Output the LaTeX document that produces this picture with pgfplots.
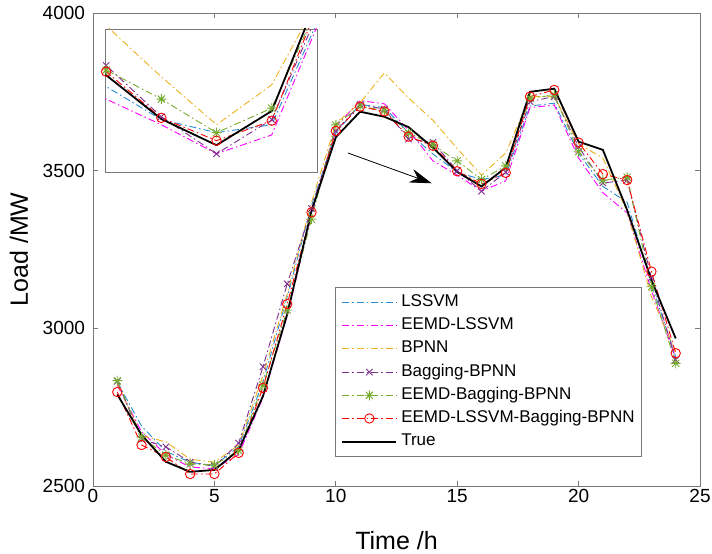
\documentclass[border=0pt]{standalone}
\usepackage{fontspec}
\setmainfont{Liberation Sans}
\usepackage{pgfplots}
\usepackage{pgfplotstable}
\pgfplotsset{compat=1.18}
\usetikzlibrary{arrows.meta}

\definecolor{cLS}{RGB}{40,140,210}
\definecolor{cELS}{RGB}{255,0,255}
\definecolor{cBP}{RGB}{237,177,32}
\definecolor{cBag}{RGB}{126,47,142}
\definecolor{cEBag}{RGB}{119,172,48}
\definecolor{cOurs}{RGB}{255,0,0}
\definecolor{framec}{RGB}{120,120,120}

\pgfdeclareplotmark{mstar}{%
  \pgfpathmoveto{\pgfqpoint{-\pgfplotmarksize}{0pt}}%
  \pgfpathlineto{\pgfqpoint{\pgfplotmarksize}{0pt}}%
  \pgfpathmoveto{\pgfqpoint{0pt}{-\pgfplotmarksize}}%
  \pgfpathlineto{\pgfqpoint{0pt}{\pgfplotmarksize}}%
  \pgfpathmoveto{\pgfqpoint{-0.707\pgfplotmarksize}{-0.707\pgfplotmarksize}}%
  \pgfpathlineto{\pgfqpoint{0.707\pgfplotmarksize}{0.707\pgfplotmarksize}}%
  \pgfpathmoveto{\pgfqpoint{-0.707\pgfplotmarksize}{0.707\pgfplotmarksize}}%
  \pgfpathlineto{\pgfqpoint{0.707\pgfplotmarksize}{-0.707\pgfplotmarksize}}%
  \pgfusepathqstroke}

\pgfplotstableread{
x  ls    els   bp    bag   ebag  ours  true
1  2830  2820  2825  2832  2834  2798  2790
2  2690  2672  2660  2648  2655  2630  2662
3  2610  2600  2640  2624  2598  2592  2577
4  2575  2560  2585  2576  2570  2538  2545
5  2565  2555  2575  2562  2567  2538  2551
6  2625  2600  2630  2636  2612  2605  2614
7  2830  2780  2850  2878  2820  2811  2785
8  3100  3040  3110  3141  3058  3077  3045
9  3390  3360  3400  3380  3346  3368  3372
10 3620  3640  3650  3625  3645  3626  3606
11 3710  3722  3715  3710  3705  3703  3687
12 3700  3712  3810  3695  3690  3688  3671
13 3620  3628  3730  3600  3620  3608  3638
14 3553  3531  3660  3590  3582  3579  3573
15 3495  3486  3570  3500  3531  3498  3496
16 3472  3435  3486  3435  3472  3458  3450
17 3486  3468  3556  3495  3515  3493  3510
18 3705  3700  3735  3719  3730  3735  3750
19 3714  3708  3735  3735  3740  3756  3760
20 3555  3540  3585  3575  3560  3589  3592
21 3450  3430  3540  3461  3470  3489  3566
22 3400  3366  3370  3470  3479  3470  3375
23 3140  3120  3100  3160  3132  3180  3153
24 2910  2905  2925  2900  2889  2921  2968
}\loaddata

\pgfplotsset{
  dd/.style={dash pattern=on 7pt off 3pt on 1.5pt off 3pt, line width=0.9pt},
  sLS/.style={color=cLS, dd, mark=none},
  sELS/.style={color=cELS, dd, mark=none},
  sBP/.style={color=cBP, dd, mark=none},
  sBag/.style={color=cBag, dd, mark=x, mark size=4.5pt, mark options={solid, line width=0.9pt}},
  sEBag/.style={color=cEBag, dd, mark=mstar, mark size=5pt, mark options={solid, line width=0.9pt}},
  sOurs/.style={color=cOurs, dd, mark=o, mark size=4.7pt, mark options={solid, line width=0.9pt}},
  sTrue/.style={color=black, solid, line width=1.8pt, mark=none},
}

\begin{document}
\begin{tikzpicture}
\begin{axis}[
  at={(0,0)}, anchor=south west,
  scale only axis, width=607pt, height=473pt,
  xmin=0, xmax=25, ymin=2500, ymax=4000,
  xtick={0,5,...,25}, ytick={2500,3000,3500,4000},
  tick align=inside, major tick length=5pt,
  axis line style={framec, line width=0.9pt},
  every tick/.style={framec, line width=0.9pt},
  tick label style={font=\fontsize{19}{22}\selectfont},
  /pgf/number format/assume math mode=true,
  /pgf/number format/1000 sep={},
  yticklabel style={xshift=-4.5pt},
  xlabel={Time /h}, ylabel={Load /MW},
  label style={font=\fontsize{25}{30}\selectfont},
  xlabel style={at={(axis description cs:0.5,-0.1332)}, anchor=base},
  ylabel style={at={(axis description cs:-0.1071,0.5)}, anchor=base},
  legend cell align=left,
  legend image code/.code={\draw[mark repeat=2,mark phase=2,#1] plot coordinates {(0pt,0pt) (27pt,0pt) (54pt,0pt)};},
  legend style={at={(0.3987,0.4207)}, anchor=north west, draw=framec, line width=0.9pt,
    inner sep=6pt, fill=white, font=\fontsize{17}{20}\selectfont,
    nodes={inner sep=1pt, text height=12pt, text depth=4pt},
    /tikz/row sep=5.2pt, /tikz/column sep=3pt},
]
\addplot[sLS] table[x=x,y=ls] {\loaddata};
\addlegendentry{LSSVM}
\addplot[sELS] table[x=x,y=els] {\loaddata};
\addlegendentry{EEMD-LSSVM}
\addplot[sBP] table[x=x,y=bp] {\loaddata};
\addlegendentry{BPNN}
\addplot[sBag] table[x=x,y=bag] {\loaddata};
\addlegendentry{Bagging-BPNN}
\addplot[sEBag] table[x=x,y=ebag] {\loaddata};
\addlegendentry{EEMD-Bagging-BPNN}
\addplot[sOurs] table[x=x,y=ours] {\loaddata};
\addlegendentry{EEMD-LSSVM-Bagging-BPNN}
\addplot[sTrue] table[x=x,y=true] {\loaddata};
\addlegendentry{True}
\draw[-{Stealth[length=22pt,width=14pt]}, line width=0.8pt] (axis cs:10.5,3556) -- (axis cs:13.95,3460);
\end{axis}

\begin{axis}[
  at={(12pt,314pt)}, anchor=south west,
  scale only axis, width=212pt, height=143pt,
  xmin=13.98, xmax=17.82, ymin=3403, ymax=3654,
  xtick=\empty, ytick=\empty,
  axis line style={framec, line width=0.9pt},
  axis background/.style={fill=white},
]
\addplot[sLS] table[x=x,y=ls] {\loaddata};
\addplot[sELS] table[x=x,y=els] {\loaddata};
\addplot[sBP] table[x=x,y=bp] {\loaddata};
\addplot[sBag] table[x=x,y=bag] {\loaddata};
\addplot[sEBag] table[x=x,y=ebag] {\loaddata};
\addplot[sOurs] table[x=x,y=ours] {\loaddata};
\addplot[sTrue] table[x=x,y=true] {\loaddata};
\end{axis}
\pgfresetboundingbox
\path (-93pt,-68pt) rectangle (619pt,486pt);
\end{tikzpicture}
\end{document}
